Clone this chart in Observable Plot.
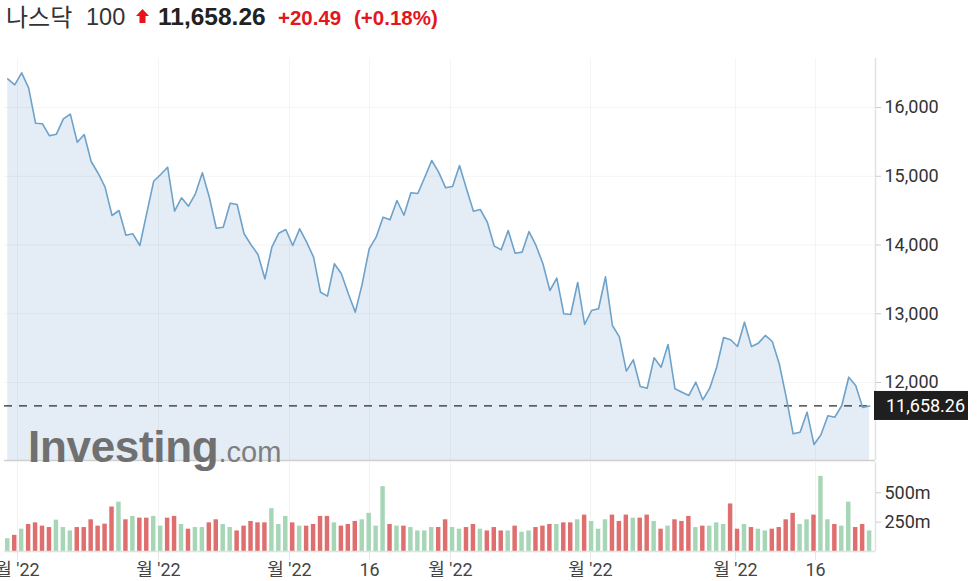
<!DOCTYPE html>
<html><head><meta charset="utf-8">
<script src="https://cdn.jsdelivr.net/npm/d3@7"></script>
<script src="https://cdn.jsdelivr.net/npm/@observablehq/plot@0.6"></script>
<style>
html,body{margin:0;padding:0;background:#fff;overflow:hidden;}
#wrap{position:relative;width:979px;height:581px;overflow:hidden;}
#wrap > svg{position:absolute;left:0;top:0;}
</style></head><body><div id="wrap"></div>
<script>
// ---- data ----
const titleName = "나스닥";
const titleNum = "100";
const lastClose = 11658.26;
const changeAbs = "+20.49";
const changePct = "(+0.18%)";

const closes = [16417,16330,16505,16286,15772,15763,15588,15612,15835,15903,
15495,15607,15215,15044,14841,14429,14502,14143,14163,13993,
14463,14928,15025,15132,14492,14686,14564,14744,15050,14695,
14244,14259,14608,14589,14163,14003,13862,13508,13968,14172,
14225,13993,14235,14041,13823,13312,13256,13727,13581,13291,
13023,13435,13944,14114,14405,14366,14647,14433,14759,14749,
14986,15229,15059,14832,14851,15156,14817,14492,14516,14331,
13983,13930,14211,13881,13896,14196,13993,13727,13338,13517,
12999,12989,13455,12844,13047,13072,13537,12829,12664,12164,
12330,11942,11917,12359,12223,12553,11908,11859,11811,12004,
11748,11917,12223,12655,12621,12524,12877,12524,12572,12684,
12596,12272,11786,11253,11277,11568,11098,11239,11516,11495,
11665,12077,11956,11637.77,11658.26];

// volume in millions
const volumes = [109,138,190,230,244,216,204,267,204,175,
204,204,270,216,233,379,420,270,299,284,
284,299,216,284,299,230,190,204,204,244,
270,230,204,175,216,256,244,244,365,230,
299,244,216,216,230,299,299,244,216,230,
256,270,325,216,552,230,216,216,204,175,
175,204,204,270,204,190,204,230,190,175,
204,175,175,216,164,175,204,216,230,230,
244,244,270,310,256,190,270,310,256,310,
284,284,310,256,190,216,270,256,299,204,
216,216,244,230,405,190,230,204,190,175,
190,204,270,325,230,270,310,640,270,230,
216,420,204,230,175];

// bar colour: G = green, R = red
const volDir = ("GRGRRRRGGG" + "RRRRRRGRGR" + "RGGRRGRGGR" + "RGGRRRRRGG" +
"GRGRRRRGRR" + "RGGGGRGRGG" + "GGRRGGRRGR" + "RRGRGGRRRG" +
"RRGRGGGRRR" + "GRRGRGRRRG" + "RGGGRRGRGG" + "RRRRGGRGGR" + "GGRRG").split("");

// x ticks (position in trading-day index, label)
const tickIndex  = [1.40, 21.69, 40.53, 52.05, 63.70, 83.84, 104.71, 116.22];
const tickLabels = ["월 '22","월 '22","월 '22","16","월 '22","월 '22","월 '22","16"];
const priceTicks = [12000, 13000, 14000, 15000, 16000];
const volumeTicks = [250, 500];

// ---- build ----
const X_DOMAIN = [-0.47, 124.85];
const Y_DOMAIN = [10865, 16713];
const V_DOMAIN = [0, 758];
const FONT = "Roboto, 'Noto Sans CJK KR', sans-serif";

const data = closes.map((c, i) => ({i, close: c}));
const vdata = volumes.map((v, i) => ({i, v, dir: volDir[i]}));
const wrap = document.getElementById("wrap");

const main = Plot.plot({
  width: 979, height: 462,
  marginTop: 58, marginBottom: 2, marginLeft: 4, marginRight: 104,
  style: {background: "transparent", overflow: "visible", fontFamily: FONT, fontSize: "18px", color: "#333"},
  x: {domain: X_DOMAIN, axis: null, label: null},
  y: {domain: Y_DOMAIN, axis: null, label: null},
  marks: [
    Plot.areaY(data, {x: "i", y1: Y_DOMAIN[0], y2: "close", fill: "#e4edf5"}),
    Plot.gridX(tickIndex, {stroke: "#000", strokeOpacity: 0.045}),
    Plot.gridY(priceTicks, {stroke: "#000", strokeOpacity: 0.045}),
    Plot.ruleY([lastClose], {stroke: "#2a2a2a", strokeWidth: 1.3, strokeDasharray: "8,7"}),
    Plot.lineY(data, {x: "i", y: "close", stroke: "#6ea2ca", strokeWidth: 1.6}),
    Plot.ruleY([Y_DOMAIN[0]], {stroke: "#cfcfcf", strokeWidth: 1.5}),
    Plot.ruleX([X_DOMAIN[1]], {stroke: "#dde3ea", strokeWidth: 1.5}),
    Plot.axisY(priceTicks, {anchor: "right", label: null, tickFormat: d3.format(","), tickSize: 5, tickPadding: 4,
      stroke: "#cccccc", fill: "#333", fontSize: 18})
  ]
});
wrap.appendChild(main);

// last-value label box using the plot's scales
{
  const yPix = main.scale("y").apply(lastClose);
  const xPix = main.scale("x").apply(X_DOMAIN[1]);
  const g = d3.select(main).append("g");
  g.append("rect").attr("x", xPix - 1).attr("y", yPix - 14.5).attr("width", 94).attr("height", 29).attr("fill", "#1f1f1f");
  g.append("text").attr("x", xPix + 11).attr("y", yPix).attr("dy", "0.36em")
    .attr("fill", "#fff").attr("font-size", 18).attr("font-family", FONT).attr("text-anchor", "start")
    .text(d3.format(",.2f")(lastClose));
}

const vol = Plot.plot({
  width: 979, height: 581,
  marginTop: 462, marginBottom: 30, marginLeft: 4, marginRight: 104,
  style: {background: "transparent", overflow: "visible", fontFamily: FONT, fontSize: "18px", color: "#333"},
  x: {domain: X_DOMAIN, axis: null, label: null},
  y: {domain: V_DOMAIN, axis: null, label: null},
  color: {domain: ["G", "R"], range: ["#a6d6b6", "#df6e6e"]},
  marks: [
    Plot.gridX(tickIndex, {stroke: "#000", strokeOpacity: 0.05}),
    Plot.rectY(vdata, {x1: d => d.i - 0.32, x2: d => d.i + 0.32, y: "v", fill: "dir"}),
    Plot.ruleY([0], {stroke: "#e3e3e3", strokeWidth: 1.5}),
    Plot.ruleX([X_DOMAIN[1]], {stroke: "#dde3ea", strokeWidth: 1.5}),
    Plot.axisY(volumeTicks, {anchor: "right", label: null, tickFormat: d => d + "m", tickSize: 5, tickPadding: 4,
      stroke: "#cccccc", fill: "#333", fontSize: 18}),
    Plot.axisX(tickIndex, {anchor: "bottom", label: null, tickSize: 9, tickPadding: 3,
      tickFormat: d => tickLabels[tickIndex.indexOf(d)], stroke: "#e6e6e6", fill: "#444", fontSize: 18})
  ]
});
wrap.appendChild(vol);

// title + watermark
const deco = d3.select(wrap).append("svg").attr("width", 979).attr("height", 581)
  .style("pointer-events", "none");
const TFONT = "'Liberation Sans', Arial, 'Noto Sans CJK KR', sans-serif";
deco.append("text").attr("x", 6).attr("y", 26).attr("font-family", "'Noto Sans CJK KR', sans-serif").attr("font-size", 24)
  .attr("fill", "#333").text(titleName);
deco.append("text").attr("x", 86).attr("y", 25).attr("font-family", TFONT).attr("font-size", 23.5)
  .attr("fill", "#333").text(titleNum);
deco.append("path").attr("d", "M142.5,9 L149,16 L145.5,16 L145.5,23 L139.5,23 L139.5,16 L136,16 Z").attr("fill", "#e8141b");
deco.append("text").attr("x", 158).attr("y", 25).attr("font-family", TFONT).attr("font-size", 24.5)
  .attr("font-weight", "bold").attr("fill", "#222").text(d3.format(",.2f")(lastClose));
deco.append("text").attr("x", 278).attr("y", 25).attr("font-family", TFONT).attr("font-size", 20.5)
  .attr("font-weight", "bold").attr("fill", "#e3161d").text(changeAbs);
deco.append("text").attr("x", 354).attr("y", 25).attr("font-family", TFONT).attr("font-size", 20.5)
  .attr("font-weight", "bold").attr("fill", "#e3161d").text(changePct);

const wm = deco.append("text").attr("x", 28).attr("y", 462).attr("font-family", TFONT);
wm.append("tspan").attr("font-size", 44).attr("font-weight", "bold").attr("fill", "#707070").attr("letter-spacing", -0.3).text("Investing");
wm.append("tspan").attr("font-size", 29).attr("fill", "#7e7e7e").text(".com");
</script>
</body></html>
